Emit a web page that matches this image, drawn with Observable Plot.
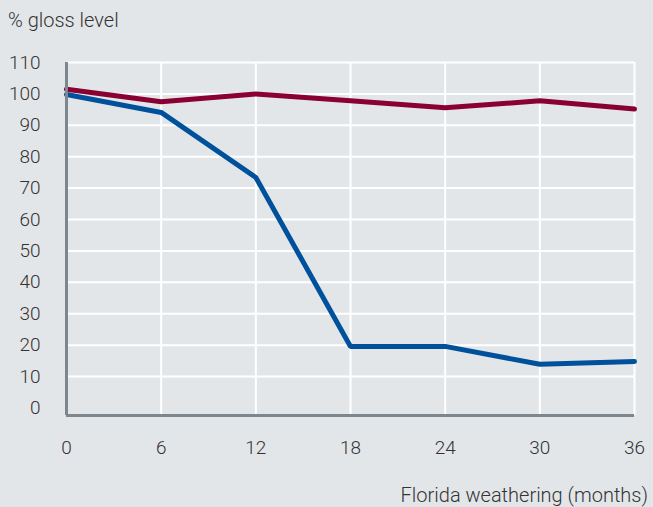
<!DOCTYPE html>
<html>
<head>
<meta charset="utf-8">
<script src="https://cdn.jsdelivr.net/npm/d3@7"></script>
<script src="https://cdn.jsdelivr.net/npm/@observablehq/plot@0.6"></script>
<style>
  html, body { margin: 0; padding: 0; background: #e3e6e9; }
  #wrap { position: relative; width: 653px; height: 507px; overflow: hidden; font-family: Roboto, "DejaVu Sans", sans-serif; color: #333; }
  #title { position: absolute; left: 8px; top: 10px; font-size: 20px; line-height: 20px; font-weight: 300; white-space: nowrap; }
  #caption { position: absolute; right: 5px; top: 485px; font-size: 20px; line-height: 20px; font-weight: 300; white-space: nowrap; }
  svg { position: absolute; left: 0; top: 0; }
</style>
</head>
<body>
<div id="wrap">
  <div id="title">% gloss level</div>
  <div id="caption">Florida weathering (months)</div>
</div>
<script>
const months = [0, 6, 12, 18, 24, 30, 36];
const seriesA = [101.5, 97.5, 100, 97.8, 95.6, 97.8, 95.2];
const seriesB = [99.8, 94.1, 73.4, 19.6, 19.6, 13.9, 14.8];
const yTicks = [0, 10, 20, 30, 40, 50, 60, 70, 80, 90, 100, 110];
const xTicks = [0, 6, 12, 18, 24, 30, 36];

const dataA = months.map((m, i) => ({m, v: seriesA[i]}));
const dataB = months.map((m, i) => ({m, v: seriesB[i]}));
const yMin = -2.4, yMax = 110;

const chart = Plot.plot({
  width: 653,
  height: 507,
  marginLeft: 66,
  marginRight: 19,
  marginTop: 62,
  marginBottom: 92,
  style: {background: "transparent", fontFamily: "Roboto, 'DejaVu Sans', sans-serif", fontSize: "19px", color: "#333", fontWeight: 300},
  x: {domain: [0, 36]},
  y: {domain: [yMin, yMax]},
  marks: [
    Plot.ruleY(yTicks.filter(d => d > 0), {x1: 0, x2: 36, stroke: "white", strokeWidth: 2}),
    Plot.ruleX(xTicks.filter(d => d > 0), {y1: yMin, y2: yMax, stroke: "white", strokeWidth: 2}),
    Plot.axisY({ticks: yTicks, tickSize: 0, tickPadding: 26, label: null, fontSize: 19}),
    Plot.axisX({ticks: xTicks, tickSize: 0, tickPadding: 25, label: null, fontSize: 19}),
    Plot.line(dataB, {x: "m", y: "v", stroke: "#00519c", strokeWidth: 5, strokeLinejoin: "miter"}),
    Plot.line(dataA, {x: "m", y: "v", stroke: "#8a0031", strokeWidth: 5, strokeLinejoin: "miter"}),
    Plot.ruleX([0], {y1: yMin, y2: yMax, stroke: "#7d878d", strokeWidth: 3}),
    Plot.ruleY([yMin], {x1: 0, x2: 36, stroke: "#7d878d", strokeWidth: 3})
  ]
});
document.getElementById("wrap").prepend(chart);
</script>
</body>
</html>
